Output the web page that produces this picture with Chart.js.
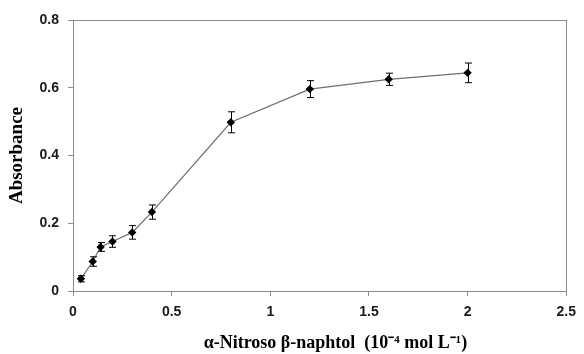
<!DOCTYPE html>
<html>
<head>
<meta charset="utf-8">
<script src="https://cdn.jsdelivr.net/npm/chart.js@4"></script>
<style>
  html, body { margin: 0; padding: 0; background: #fff; }
  #wrap { width: 584px; height: 354px; }
</style>
</head>
<body>
<div id="wrap"><canvas id="c" width="584" height="354"></canvas></div>
<script>
const concentrations = [0.04, 0.1, 0.14, 0.2, 0.3, 0.4, 0.8, 1.2, 1.6, 2.0];
const absorbance    = [0.036, 0.087, 0.130, 0.146, 0.173, 0.233, 0.498, 0.596, 0.625, 0.644];
const errors        = [0.009, 0.014, 0.013, 0.017, 0.020, 0.021, 0.031, 0.025, 0.018, 0.029];
const xTickLabels = ["0", "0.5", "1", "1.5", "2", "2.5"];
const yTickLabels = ["0", "0.2", "0.4", "0.6", "0.8"];
const xTitle = "\u00A0\u00A0\u00A0\u00A0\u00A0\u00A0\u00A0α-Nitroso β-naphtol  (10\u207B\u2074 mol L\u207B\u00B9)";
const yTitle = "Absorbance";

const points = concentrations.map((x, i) => ({ x: x, y: absorbance[i] }));

const errorBars = {
  id: 'errorBars',
  afterDatasetsDraw(chart) {
    const ctx = chart.ctx;
    const xs = chart.scales.x, ys = chart.scales.y;
    ctx.save();
    ctx.strokeStyle = '#000';
    ctx.lineWidth = 1;
    concentrations.forEach((x, i) => {
      const px = Math.round(xs.getPixelForValue(x)) + 0.5;
      const top = ys.getPixelForValue(absorbance[i] + errors[i]);
      const bot = ys.getPixelForValue(absorbance[i] - errors[i]);
      ctx.beginPath();
      ctx.moveTo(px, top); ctx.lineTo(px, bot);
      ctx.moveTo(px - 3.5, top); ctx.lineTo(px + 3.5, top);
      ctx.moveTo(px - 3.5, bot); ctx.lineTo(px + 3.5, bot);
      ctx.stroke();
    });
    ctx.restore();
  }
};

const frame = {
  id: 'frame',
  afterDraw(chart) {
    const a = chart.chartArea, ctx = chart.ctx;
    ctx.save();
    ctx.strokeStyle = '#8c8c8c';
    ctx.lineWidth = 1;
    ctx.strokeRect(Math.round(a.left) + 0.5, Math.round(a.top) + 0.5,
                   Math.round(a.right - a.left), Math.round(a.bottom - a.top));
    ctx.restore();
  }
};

new Chart(document.getElementById('c'), {
  type: 'scatter',
  data: {
    datasets: [{
      data: points,
      showLine: true,
      borderColor: '#6e6e6e',
      borderWidth: 1.2,
      pointStyle: 'rectRot',
      pointRadius: 4.2,
      pointBackgroundColor: '#000',
      pointBorderColor: '#000',
      pointBorderWidth: 0,
      tension: 0
    }]
  },
  options: {
    responsive: false,
    animation: false,
    devicePixelRatio: 1,
    layout: { padding: { top: 20, right: 12, left: 0, bottom: 0 } },
    plugins: { legend: { display: false }, tooltip: { enabled: false } },
    scales: {
      x: {
        type: 'linear', min: 0, max: 2.5,
        afterFit(s) { s.height = 63; },
        ticks: {
          stepSize: 0.5, padding: 8, color: '#1a1a1a',
          font: { family: 'Liberation Sans', size: 14, weight: 'bold' },
          callback: (v) => xTickLabels[Math.round(v / 0.5)] ?? ''
        },
        grid: { drawOnChartArea: false, drawTicks: true, tickLength: 5, color: '#8c8c8c' },
        border: { display: true, color: '#8c8c8c' },
        title: {
          display: true, text: xTitle, color: '#000',
          font: { family: 'Liberation Serif', size: 18, weight: 'bold' },
          padding: { top: 4, bottom: 0 }
        }
      },
      y: {
        type: 'linear', min: 0, max: 0.8,
        afterFit(s) { s.width = 73; },
        ticks: {
          stepSize: 0.2, padding: 9, color: '#1a1a1a',
          font: { family: 'Liberation Sans', size: 14, weight: 'bold' },
          callback: (v) => yTickLabels[Math.round(v / 0.2)] ?? ''
        },
        grid: { drawOnChartArea: false, drawTicks: true, tickLength: 5, color: '#8c8c8c' },
        border: { display: true, color: '#8c8c8c' },
        title: {
          display: true, text: yTitle, color: '#000',
          font: { family: 'Liberation Serif', size: 19, weight: 'bold' },
          padding: { top: 6, bottom: 0 }
        }
      }
    }
  },
  plugins: [errorBars, frame]
});
</script>
</body>
</html>
